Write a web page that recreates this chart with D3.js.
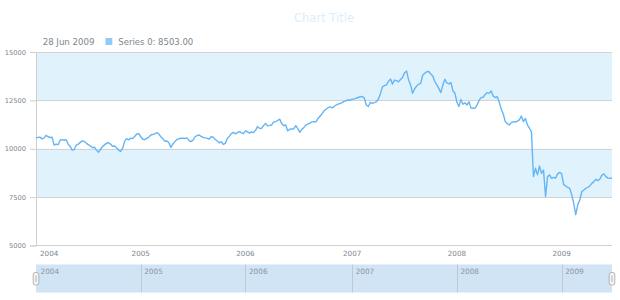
<!DOCTYPE html>
<html>
<head>
<meta charset="utf-8">
<script src="https://cdn.jsdelivr.net/npm/d3@7"></script>
<style>
  html, body { margin: 0; padding: 0; background: #ffffff; }
  svg { display: block; font-family: "DejaVu Sans", sans-serif; }
</style>
</head>
<body>
<svg id="chart" width="620" height="300"></svg>
<script>
// ---------- DATA (weekly closes) ----------
const chartTitle = "Chart Title";
const seriesName = "Series 0";
const firstWeek = "2004-01-04"; // weekly points, one every 7 days
const values2004 = [10560,10590,10600,10510,10560,10690,10620,10580,10595,10190,
  10240,10210,10450,10470,10440,10470,10230,10120,9930,9960,
  10190,10240,10330,10410,10370,10280,10210,10140,10060,10080,
  9930,9815,9960,10110,10200,10290,10310,10240,10130,10140,
  10050,9930,9860,10020,10380,10520,10460,10550,10530,10630,
  10760,10780];
const values2005 = [10620,10490,10470,10540,10600,10710,10740,10770,10830,10760,
  10620,10520,10380,10400,10310,10070,10250,10370,10480,10520,
  10540,10550,10530,10560,10420,10370,10450,10620,10680,10710,
  10640,10590,10560,10540,10500,10620,10600,10480,10400,10310,
  10360,10230,10280,10530,10640,10780,10850,10770,10830,10880,
  10820,10780];
const values2006 = [10920,10880,10810,10870,10840,10950,11140,11060,11050,11200,
  11310,11180,11210,11230,11380,11400,11460,11530,11300,11190,
  11230,10920,11010,11020,11030,11190,11040,10850,11010,11090,
  11220,11280,11320,11390,11400,11390,11560,11680,11800,11960,
  12040,12120,12170,12110,12180,12260,12310,12340,12380,12460,
  12480,12520,12510];
const values2007 = [12560,12580,12610,12650,12690,12700,12630,12260,12180,12400,
  12350,12380,12430,12570,12840,13200,13260,13300,13480,13600,
  13340,13550,13520,13460,13580,13680,13920,14020,13560,13290,
  12870,13100,13240,13330,13380,13800,13900,13980,13990,13860,
  13760,13470,13300,13120,12900,13290,13590,13400,13350,13420,
  13000,12870];
const values2008 = [12400,12180,12550,12300,12380,12260,12430,12100,12090,12100,
  12260,12500,12640,12660,12800,12900,12860,12990,12720,12650,
  12690,12400,12050,11800,11400,11300,11230,11350,11400,11380,
  11420,11490,11690,11400,11570,11230,11060,10880,8560,8990,
  8650,9110,8730,8900,7530,8560,8650,8470,8520,8480,
  8700,8780];
const values2009 = [8700,8150,8080,8000,7950,7620,7180,6600,7100,7360,
  7780,7870,7950,8010,8080,8210,8300,8420,8350,8440,
  8640,8700,8560,8480,8470,8503];
const yTicks = [5000, 7500, 10000, 12500, 15000];
const yearLabels = ["2004", "2005", "2006", "2007", "2008", "2009"];

// ---------- BUILD ----------
const values = [].concat(values2004, values2005, values2006, values2007, values2008, values2009);
const start = d3.utcParse("%Y-%m-%d")(firstWeek);
const dates = values.map((v, i) => d3.utcDay.offset(start, 7 * i));
const data = values.map((v, i) => ({ date: dates[i], value: v, i }));

const svg = d3.select("#chart");
const plot = { left: 36, right: 612, top: 52, bottom: 245.5 };

const x = d3.scalePoint().domain(d3.range(values.length)).range([plot.left, plot.right]);
const y = d3.scaleLinear().domain([5000, 15000]).range([plot.bottom, plot.top]);

const textColor = "#7c868e";

// Title
svg.append("text")
  .attr("x", (plot.left + plot.right) / 2).attr("y", 22)
  .attr("text-anchor", "middle")
  .attr("font-size", "11.5px")
  .attr("fill", "#dbeefc")
  .text(chartTitle);

// Legend
const last = data[data.length - 1];
svg.append("text")
  .attr("x", 42.7).attr("y", 45)
  .attr("font-size", "8.6px").attr("fill", textColor)
  .text(d3.utcFormat("%d %b %Y")(last.date));
svg.append("rect")
  .attr("x", 105.5).attr("y", 38).attr("width", 6.8).attr("height", 7)
  .attr("fill", "#90caf9");
svg.append("text")
  .attr("x", 118.3).attr("y", 45)
  .attr("font-size", "8.5px").attr("fill", textColor)
  .text(seriesName + ": " + d3.format(".2f")(last.value));

// Bands (alternate fill)
const bandPairs = d3.pairs(yTicks).filter((p, k) => k % 2 === 1);
svg.append("g").selectAll("rect").data(bandPairs).join("rect")
  .attr("x", plot.left).attr("width", plot.right - plot.left)
  .attr("y", d => y(d[1])).attr("height", d => y(d[0]) - y(d[1]))
  .attr("fill", "#e0f3fd");

// Grid lines
svg.append("g").selectAll("line").data(yTicks.slice(1)).join("line")
  .attr("x1", plot.left).attr("x2", plot.right)
  .attr("y1", d => Math.round(y(d)) + 0.5).attr("y2", d => Math.round(y(d)) + 0.5)
  .attr("stroke", "#d3d3d3").attr("stroke-width", 1);

// Y axis
const yAxis = d3.axisLeft(y).tickValues(yTicks).tickSize(6).tickPadding(4).tickFormat(d3.format("d"));
const gy = svg.append("g").attr("transform", `translate(${plot.left},0)`).call(yAxis);
gy.select(".domain").attr("stroke", "#cfcfcf");
gy.selectAll(".tick line").attr("stroke", "#cfcfcf");
gy.selectAll(".tick text").attr("fill", textColor).attr("font-size", "6.7px")
  .attr("font-family", "DejaVu Sans, sans-serif");

// Bottom axis line
svg.append("line")
  .attr("x1", plot.left).attr("x2", plot.right)
  .attr("y1", plot.bottom).attr("y2", plot.bottom)
  .attr("stroke", "#cfcfcf");

// Year ticks (first point of each year)
const yearIdx = yearLabels.map(lbl => {
  if (lbl === yearLabels[0]) return 0;
  return data.findIndex(d => d.date.getUTCFullYear() === +lbl);
});
const yearTickX = yearLabels.map((lbl, k) => {
  if (k === 0) return x(0) - 2 * (x(1) - x(0)) * 0.5; // year start lies just before first point
  return x(yearIdx[k]);
});

// X axis labels
const xl = svg.append("g").selectAll("text").data(yearLabels).join("text")
  .attr("y", 255.7)
  .attr("font-size", "7.2px").attr("fill", textColor)
  .text(d => d);
xl.each(function(d, k) {
  const w = this.getComputedTextLength();
  let left = yearTickX[k] - w / 2;
  if (left < plot.left + 4) left = plot.left + 4;
  d3.select(this).attr("x", left);
});

// Series line
const line = d3.line().x(d => x(d.i)).y(d => y(d.value));
svg.append("path").datum(data)
  .attr("d", line)
  .attr("fill", "none")
  .attr("stroke", "#64b5f6")
  .attr("stroke-width", 1.4)
  .attr("stroke-linejoin", "round");

// Scroller
const sc = { top: 264.5, bottom: 292.5 };
svg.append("rect")
  .attr("x", plot.left).attr("y", sc.top)
  .attr("width", plot.right - plot.left).attr("height", sc.bottom - sc.top)
  .attr("fill", "#d1e4f6");
svg.append("g").selectAll("line").data(yearLabels.slice(1)).join("line")
  .attr("x1", (d, k) => Math.round(yearTickX[k + 1]) + 0.5)
  .attr("x2", (d, k) => Math.round(yearTickX[k + 1]) + 0.5)
  .attr("y1", sc.top).attr("y2", sc.bottom)
  .attr("stroke", "#bccad8");
svg.append("g").selectAll("text").data(yearLabels).join("text")
  .attr("x", (d, k) => Math.max(yearTickX[k], plot.left + 1) + 3.5)
  .attr("y", 273.5)
  .attr("font-size", "7.3px").attr("fill", "#8b959d")
  .text(d => d);

// Scroller thumbs
[plot.left, plot.right].forEach(cx => {
  const g = svg.append("g");
  g.append("rect")
    .attr("x", cx - 2.8).attr("y", 272.5).attr("width", 5.6).attr("height", 12.5)
    .attr("rx", 2).attr("ry", 2)
    .attr("fill", "#f4f4f4").attr("stroke", "#a3a3a3").attr("stroke-width", 0.8);
  g.append("line")
    .attr("x1", cx).attr("x2", cx).attr("y1", 275.5).attr("y2", 282)
    .attr("stroke", "#b5b5b5").attr("stroke-width", 1);
});
</script>
</body>
</html>
